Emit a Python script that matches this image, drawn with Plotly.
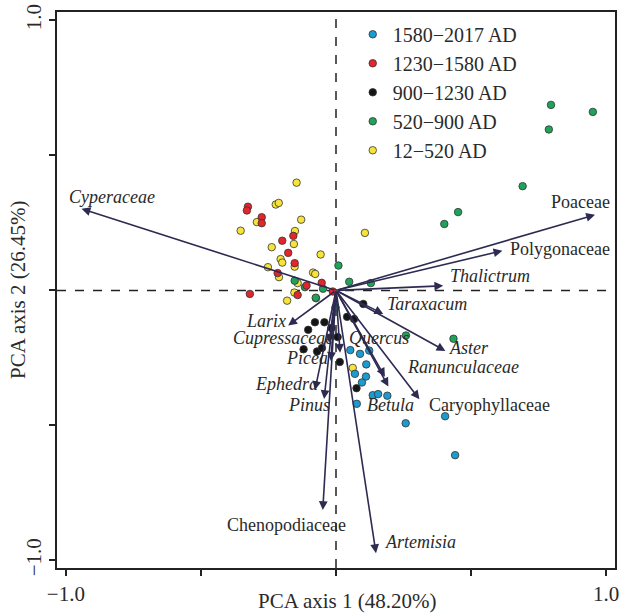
import plotly.graph_objects as go

# ---- Sample scores (PCA axis 1, PCA axis 2) by period ----
period_names = ["12−520 AD", "520−900 AD", "900−1230 AD", "1230−1580 AD", "1580−2017 AD"]
period_colors = ["#f7e43a", "#1fa35a", "#151515", "#e2262b", "#1c9bd1"]

yellow_x = [-0.146, -0.223, -0.212, -0.293, -0.353, -0.129, -0.152, -0.156, -0.238, -0.057, -0.205,
            -0.199, -0.153, -0.252, -0.211, -0.085, -0.077, -0.142, -0.154, -0.181, 0.107, 0.062, -0.074]
yellow_y = [0.399, 0.318, 0.324, 0.253, 0.221, 0.262, 0.220, 0.172, 0.160, 0.133, 0.116,
            0.103, 0.088, 0.086, 0.049, 0.066, 0.061, 0.027, -0.008, -0.038, 0.213, -0.287, -0.029]

green_x = [0.009, 0.049, 0.129, -0.153, -0.115, -0.048, -0.075, 0.401, 0.452, 0.691, 0.788, 0.796,
           0.951, 0.435, 0.259, -0.002]
green_y = [0.092, 0.032, 0.027, 0.036, 0.012, 0.006, -0.027, 0.246, 0.290, 0.386, 0.596, 0.687,
           0.661, -0.179, -0.167, -0.063]

black_x = [-0.078, -0.043, -0.017, -0.103, -0.120, -0.070, -0.052, 0.006, 0.014, 0.041, 0.067, 0.101, 0.076]
black_y = [-0.118, -0.118, -0.139, -0.146, -0.218, -0.226, -0.213, -0.173, -0.265, -0.098, -0.106, -0.050, -0.362]

red_x = [-0.326, -0.330, -0.275, -0.275, -0.199, -0.158, -0.177, -0.153, -0.216, -0.053, -0.109, -0.142, -0.319, -0.012]
red_y = [0.310, 0.296, 0.271, 0.249, 0.184, 0.202, 0.139, 0.101, 0.064, 0.028, 0.018, -0.017, -0.013, -0.004]

blue_x = [0.053, 0.089, 0.123, 0.112, 0.070, 0.111, 0.096, 0.136, 0.156, 0.190, 0.077, 0.258, 0.404, 0.441]
blue_y = [-0.221, -0.235, -0.223, -0.274, -0.309, -0.319, -0.341, -0.388, -0.384, -0.390, -0.420, -0.492, -0.466, -0.610]

period_x = [yellow_x, green_x, black_x, red_x, blue_x]
period_y = [yellow_y, green_y, black_y, red_y, blue_y]

# ---- Taxa loadings (arrow tips) ----
taxa = ["Cyperaceae", "Poaceae", "Polygonaceae", "Thalictrum", "Taraxacum", "Aster",
        "Ranunculaceae", "Betula", "Caryophyllaceae", "Quercus", "Larix", "Cupressaceae",
        "Picea", "Ephedra", "Pinus", "Chenopodiaceae", "Artemisia"]
taxa_x = [-0.942, 0.959, 0.616, 0.397, 0.175, 0.405, 0.181, 0.194, 0.309, 0.015, -0.177, -0.026,
          -0.019, -0.078, -0.044, -0.049, 0.148]
taxa_y = [0.302, 0.280, 0.147, 0.017, -0.087, -0.224, -0.320, -0.356, -0.403, -0.231, -0.130, -0.194,
          -0.261, -0.369, -0.402, -0.813, -0.973]
taxa_italic = [True, False, False, True, True, True, True, True, False, True, True, True,
               True, True, True, False, True]
label_x = [-0.831, 0.907, 0.828, 0.569, 0.337, 0.494, 0.469, 0.200, 0.569, 0.159, -0.261, -0.196,
           -0.107, -0.185, -0.100, -0.183, 0.311]
label_y = [0.346, 0.328, 0.154, 0.054, -0.050, -0.214, -0.284, -0.424, -0.424, -0.177, -0.112, -0.175,
           -0.251, -0.346, -0.424, -0.869, -0.930]

tick_vals = [-1.0, -0.5, 0.0, 0.5, 1.0]
tick_text = ["−1.0", "", "", "", "1.0"]
x_title = "PCA axis 1 (48.20%)"
y_title = "PCA axis 2 (26.45%)"

FONT = "Liberation Serif"
ARROW = "#2d2b52"
TEXT = "#2a2a2a"

fig = go.Figure()

for name, color, xs, ys in zip(period_names, period_colors, period_x, period_y):
    fig.add_trace(go.Scatter(
        x=xs, y=ys, mode="markers", name=name,
        marker=dict(size=7.5, color=color, line=dict(color="#333333", width=0.8)),
    ))

annotations = []
for t, tx, ty in zip(taxa, taxa_x, taxa_y):
    annotations.append(dict(
        x=tx, y=ty, ax=0, ay=0, xref="x", yref="y", axref="x", ayref="y",
        text="", showarrow=True, arrowhead=2, arrowsize=1.1, arrowwidth=1.6,
        arrowcolor=ARROW, standoff=0,
    ))
for t, lx, ly, it in zip(taxa, label_x, label_y, taxa_italic):
    annotations.append(dict(
        x=lx, y=ly, xref="x", yref="y", showarrow=False,
        text=f"<i>{t}</i>" if it else t,
        font=dict(family=FONT, size=18, color=TEXT),
        xanchor="center", yanchor="middle",
    ))
annotations.append(dict(
    x=0.5215, y=0, xref="paper", yref="paper", yshift=-33, showarrow=False,
    text=x_title, font=dict(family=FONT, size=21, color=TEXT),
    xanchor="center", yanchor="middle",
))
annotations.append(dict(
    x=0, y=0.5, xref="paper", yref="paper", xshift=-39, showarrow=False,
    text=y_title, textangle=-90, font=dict(family=FONT, size=21, color=TEXT),
    xanchor="center", yanchor="middle",
))

fig.add_hline(y=0, line=dict(color="#222222", width=1.5, dash="dash"), layer="below")
fig.add_vline(x=0, line=dict(color="#222222", width=1.5, dash="dash"), layer="below")

axis_common = dict(
    tickvals=tick_vals, ticktext=tick_text, ticks="outside", ticklen=6, tickwidth=1.5,
    tickcolor="#222222", showline=True, linecolor="#222222", linewidth=2, mirror=True,
    showgrid=False, zeroline=False, automargin=False,
    tickfont=dict(family=FONT, size=21, color=TEXT),
)

fig.update_layout(
    width=620, height=616,
    margin=dict(l=57, r=5, t=12, b=48),
    plot_bgcolor="white", paper_bgcolor="white",
    xaxis=dict(range=[-1.033, 1.033], **axis_common),
    yaxis=dict(range=[-1.028, 1.031], tickangle=-90, **axis_common),
    annotations=annotations,
    showlegend=True,
    legend=dict(
        x=0.53, y=0.995, xanchor="left", yanchor="top", traceorder="reversed",
        bgcolor="rgba(0,0,0,0)", font=dict(family=FONT, size=20, color=TEXT),
        itemwidth=30, tracegroupgap=0,
    ),
    font=dict(family=FONT),
)

fig.write_html("out.html", config={"displayModeBar": False},
               post_script="document.body.style.margin='0';")
